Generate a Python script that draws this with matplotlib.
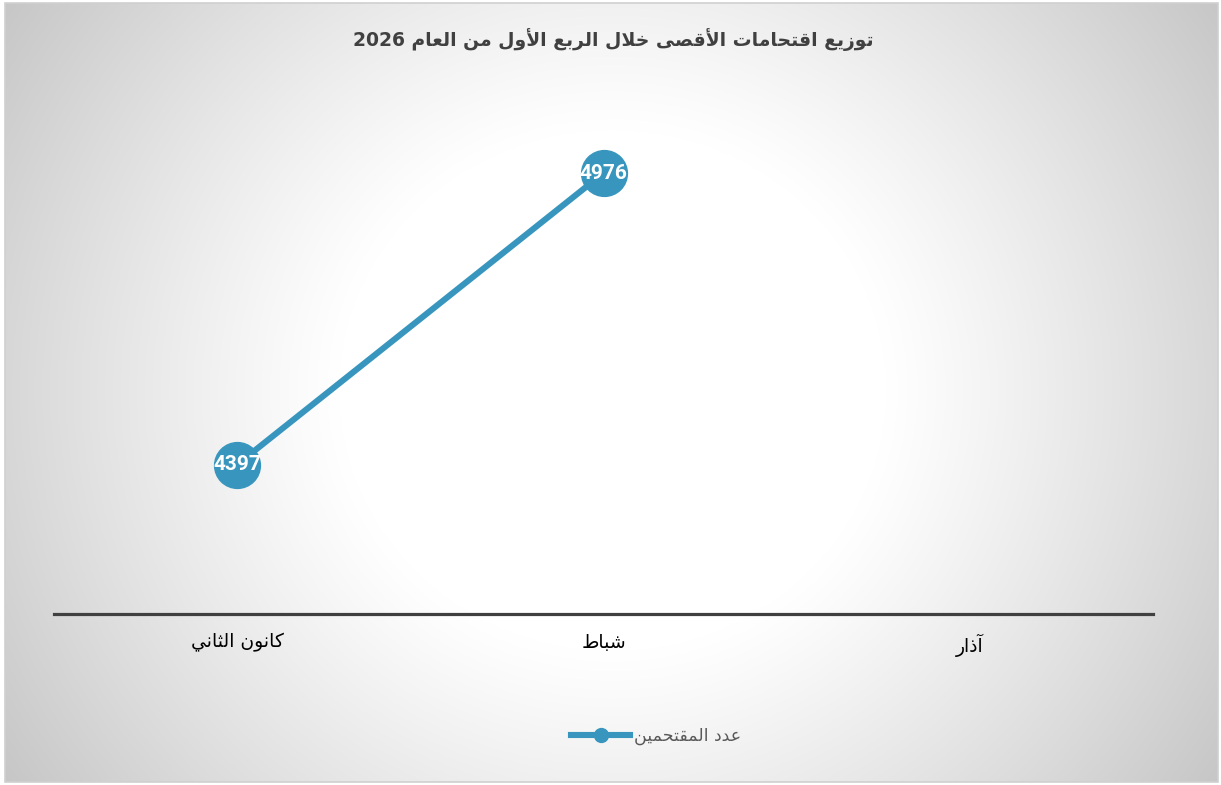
import numpy as np
import matplotlib
matplotlib.use("Agg")
import matplotlib.pyplot as plt
from matplotlib.lines import Line2D
from matplotlib.patches import Rectangle

# ---------------- data ----------------
title_text = "توزيع اقتحامات الأقصى خلال الربع الأول من العام 2026"
categories = ["كانون الثاني", "شباط", "آذار"]
values = [4397, 4976, None]
series_name = "عدد المقتحمين"
y_min, y_max = 4100, 5000

# ---------------- minimal Arabic shaping (presentation forms + visual order) ----------------
FORMS = {
    '\u0627': (0xFE8D, 2), '\u0623': (0xFE83, 2), '\u0622': (0xFE81, 2),
    '\u0628': (0xFE8F, 4), '\u062A': (0xFE95, 4), '\u062B': (0xFE99, 4),
    '\u062D': (0xFEA1, 4), '\u062E': (0xFEA5, 4), '\u062F': (0xFEA9, 2),
    '\u0630': (0xFEAB, 2), '\u0631': (0xFEAD, 2), '\u0632': (0xFEAF, 2),
    '\u0634': (0xFEB5, 4), '\u0635': (0xFEB9, 4), '\u0637': (0xFEC1, 4),
    '\u0639': (0xFEC9, 4), '\u0642': (0xFED5, 4), '\u0643': (0xFED9, 4),
    '\u0644': (0xFEDD, 4), '\u0645': (0xFEE1, 4), '\u0646': (0xFEE5, 4),
    '\u0648': (0xFEED, 2), '\u0649': (0xFEEF, 2), '\u064A': (0xFEF1, 4),
}
LAMALEF = {'\u0627': 0xFEFB, '\u0623': 0xFEF7, '\u0622': 0xFEF5}


def shape(text):
    toks = []
    i = 0
    while i < len(text):
        c = text[i]
        if c == '\u0644' and i + 1 < len(text) and text[i + 1] in LAMALEF:
            toks.append((LAMALEF[text[i + 1]], 2))
            i += 2
        elif c in FORMS:
            toks.append(FORMS[c])
            i += 1
        else:
            toks.append(c)
            i += 1
    out = []
    for k, t in enumerate(toks):
        if isinstance(t, str):
            out.append(t)
            continue
        base, kind = t
        prev = toks[k - 1] if k > 0 else None
        nxt = toks[k + 1] if k + 1 < len(toks) else None
        jp = isinstance(prev, tuple) and prev[1] == 4
        jn = kind == 4 and isinstance(nxt, tuple)
        if jp and jn:
            off = 3
        elif jp:
            off = 1
        elif jn:
            off = 2
        else:
            off = 0
        out.append(chr(base + off))
    s = ''.join(out)
    # visual order: reverse, keeping digit runs LTR
    runs = []
    cur = ''
    cur_d = None
    for ch in s:
        d = ch.isdigit()
        if cur and d != cur_d:
            runs.append((cur, cur_d))
            cur = ''
        cur += ch
        cur_d = d
    if cur:
        runs.append((cur, cur_d))
    return ''.join(r if d else r[::-1] for r, d in reversed(runs))


# ---------------- figure ----------------
W, H, DPI = 1221, 785, 100
fig = plt.figure(figsize=(W / DPI, H / DPI), dpi=DPI)
fig.patch.set_facecolor('white')

# background with radial gradient
bg = fig.add_axes([0, 0, 1, 1], zorder=-10)
bg.set_xlim(0, W)
bg.set_ylim(H, 0)
bg.axis('off')
yy, xx = np.mgrid[0:H, 0:W]
cx, cy = 612, 390
r = np.sqrt(((xx - cx) / 1.05) ** 2 + (yy - cy) ** 2)
t = np.clip((r - 260) / 540, 0, 1)
v = 1.0 - 0.28 * t ** 1.1
img = np.dstack([v, v, v])
x0, y0, x1, y1 = 5, 3, 1218, 782
bg.imshow(img[y0:y1, x0:x1], extent=(x0, x1, y1, y0), interpolation='bilinear', aspect='auto')
bg.add_patch(Rectangle((x0, y0), x1 - x0, y1 - y0, fill=False, edgecolor='#d0d0d0', lw=1.2))

# title
fig.text(613 / W, 1 - 40 / H, shape(title_text), ha='center', va='center',
         fontsize=13.5, fontweight='bold', color='#404040', family=['DejaVu Sans'])

# plot axes
left, right = 54 / W, 1153 / W
bottom, top = 1 - 614 / H, 1 - 161 / H
ax = fig.add_axes([left, bottom, right - left, top - bottom])
ax.patch.set_alpha(0)
xs = np.arange(len(categories))
px = [x for x, v_ in zip(xs, values) if v_ is not None]
py = [v_ for v_ in values if v_ is not None]
color = '#3896BE'
ax.plot(px, py, color=color, lw=4.4, marker='o', markersize=33, solid_capstyle='round',
        zorder=3, clip_on=False)
for x, v_ in zip(px, py):
    ax.text(x, v_, str(v_), ha='center', va='center', color='white', fontsize=15,
            fontweight='bold', family=['Roboto', 'DejaVu Sans'], zorder=4)

ax.set_xlim(-0.5, len(categories) - 0.5)
ax.set_ylim(y_min, y_max)
ax.set_xticks(xs)
ax.set_xticklabels([shape(c) for c in categories], fontsize=13.5, color='black', family=['DejaVu Sans'])
ax.tick_params(axis='x', length=0, pad=14)
ax.set_yticks([])
for s in ['top', 'left', 'right']:
    ax.spines[s].set_visible(False)
ax.spines['bottom'].set_color('#404040')
ax.spines['bottom'].set_linewidth(2.3)

# legend
handle = Line2D([0], [0], color=color, lw=4.4, marker='o', markersize=10)
fig.legend([handle], [shape(series_name)], loc='center', bbox_to_anchor=(656 / W, 1 - 736 / H),
           frameon=False, handlelength=3.4, handletextpad=0.2,
           prop={'family': ['DejaVu Sans'], 'size': 12.5}, labelcolor='#595959')

fig.savefig('out.png', dpi=DPI)
